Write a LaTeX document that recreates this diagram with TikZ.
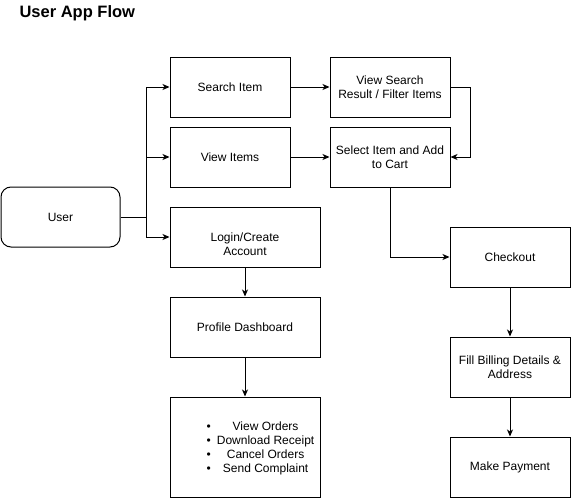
\documentclass[tikz,border=0pt]{standalone}
\usepackage{fontspec}
\setmainfont{Liberation Sans}
\usetikzlibrary{arrows.meta}
\begin{document}
\begin{tikzpicture}[x=1pt,y=-1pt,
  box/.style={draw, line width=1pt, minimum width=120pt, minimum height=60pt, align=center,
    font=\fontsize{12}{14}\selectfont, inner sep=0pt},
  widebox/.style={box, minimum width=150pt},
  txt/.style={font=\fontsize{12}{14}\selectfont, inner sep=0pt, align=center},
  arr/.style={-{Stealth[length=7pt,width=6pt,inset=2pt]}, line width=1pt},
  line/.style={line width=1pt}]
\useasboundingbox (0,0) rectangle (571,498);
\node[anchor=base west, font=\fontsize{16.5}{19}\selectfont\bfseries] (title) at (16,17.5) {User App Flow};
\node[box, rounded corners=10pt, minimum width=119pt] (user) at (60.5,217) {User};
\node[box] (search) at (230,87) {Search Item};
\node[box] (items) at (230,157) {View Items};
\node[widebox] (login) at (245,237) {};
\node[txt] (logintxt) at (245,244.5) {Login/Create\\Account};
\node[widebox] (profile) at (245,327) {Profile Dashboard};
\node[widebox, minimum height=100pt] (lst) at (245,447) {};
\node[txt] (lsttxt) at (260.5,449) {%
  \begin{tabular}{@{}c@{\hspace{6pt}}c@{}}
  \textbullet & View Orders\\
  \textbullet & Download Receipt\\
  \textbullet & Cancel Orders\\
  \textbullet & Send Complaint
  \end{tabular}};
\node[box] (vsearch) at (390,87) {View Search\\Result / Filter Items};
\node[box] (select) at (390,157) {Select Item and Add\\to Cart};
\node[box] (checkout) at (510,257) {Checkout};
\node[box] (bill) at (510,367) {Fill Billing Details \&\\Address};
\node[box] (pay) at (510,467) {Make Payment};
\coordinate (j) at (146,217);
\draw[line] (user.east) -- (j);
\draw[arr] (j) |- (search.west);
\draw[arr] (j) |- (items.west);
\draw[arr] (j) |- (login.west);
\draw[arr] (search) -- (vsearch);
\draw[arr] (items) -- (select);
\draw[arr] (vsearch.east) -- ++(20,0) |- (select.east);
\draw[arr] (select.south) |- (checkout.west);
\draw[arr] (login) -- (profile);
\draw[arr] (profile) -- (lst);
\draw[arr] (checkout) -- (bill);
\draw[arr] (bill) -- (pay);
\end{tikzpicture}
\end{document}
